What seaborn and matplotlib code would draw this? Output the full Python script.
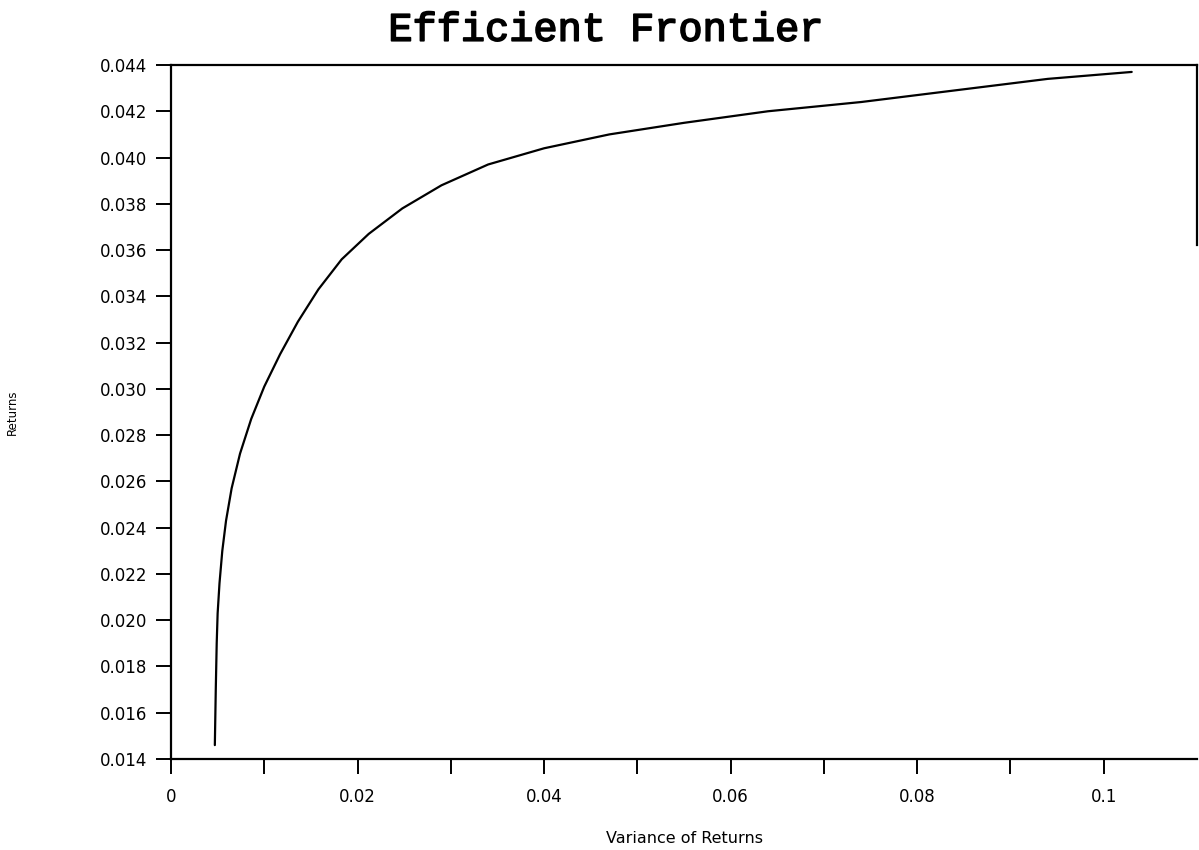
import matplotlib
matplotlib.use("Agg")
import matplotlib.pyplot as plt
import matplotlib.patheffects as pe
import seaborn as sns
import pandas as pd

# data
variance = [0.0047, 0.0048, 0.0049, 0.0050, 0.0052, 0.0055, 0.0059, 0.0065, 0.0074,
            0.0086, 0.0100, 0.0117, 0.0136, 0.0158, 0.0183, 0.0212, 0.0248, 0.0290,
            0.0340, 0.0400, 0.0470, 0.0550, 0.0640, 0.0740, 0.0840, 0.0940, 0.1030]
returns = [0.0146, 0.0170, 0.0190, 0.0203, 0.0216, 0.0230, 0.0243, 0.0257, 0.0272,
           0.0287, 0.0301, 0.0315, 0.0329, 0.0343, 0.0356, 0.0367, 0.0378, 0.0388,
           0.0397, 0.0404, 0.0410, 0.0415, 0.0420, 0.0424, 0.0429, 0.0434, 0.0437]
x_ticks = [0, 0.01, 0.02, 0.03, 0.04, 0.05, 0.06, 0.07, 0.08, 0.09, 0.10]
x_tick_labels = ["0", "", "0.02", "", "0.04", "", "0.06", "", "0.08", "", "0.1"]
y_ticks = [0.014, 0.016, 0.018, 0.020, 0.022, 0.024, 0.026, 0.028, 0.030,
           0.032, 0.034, 0.036, 0.038, 0.040, 0.042, 0.044]
y_tick_labels = ["%.3f" % v for v in y_ticks]

df = pd.DataFrame({"Variance of Returns": variance, "Returns": returns})

sns.set_theme(style="white")
plt.rcParams["font.family"] = ["DejaVu Sans"]

fig = plt.figure(figsize=(11.99, 8.5), dpi=100)
ax = fig.add_axes([171 / 1199, 1 - 759 / 850, (1197 - 171) / 1199, (759 - 65) / 850])

sns.lineplot(data=df, x="Variance of Returns", y="Returns", ax=ax, color="black",
             linewidth=1.6, sort=False, estimator=None)

ax.set_xlim(0, 0.11)
ax.set_ylim(0.014, 0.044)
ax.set_xticks(x_ticks)
ax.set_xticklabels(x_tick_labels)
ax.set_yticks(y_ticks)
ax.set_yticklabels(y_tick_labels)

ax.tick_params(axis="both", direction="out", length=11, width=1.4, color="black",
               labelsize=12, labelcolor="black")
ax.tick_params(axis="x", pad=10)
ax.tick_params(axis="y", pad=6)
ax.tick_params(bottom=True, left=True)

for side in ["left", "bottom", "top", "right"]:
    ax.spines[side].set_color("black")
    ax.spines[side].set_linewidth(1.6)
    ax.spines[side].set_visible(True)
ax.spines["right"].set_bounds(0.0362, 0.044)

ax.set_xlabel("Variance of Returns", fontsize=11.5, labelpad=18, color="black")
ax.set_ylabel("Returns", fontsize=8.5, labelpad=58, color="black")

fig.text(0.505, 0.965, "Efficient Frontier", ha="center", va="center",
         fontsize=29, family="Liberation Mono", color="black",
         path_effects=[pe.withStroke(linewidth=1.2, foreground="black")])

fig.savefig("out.png", dpi=100, facecolor="white")
